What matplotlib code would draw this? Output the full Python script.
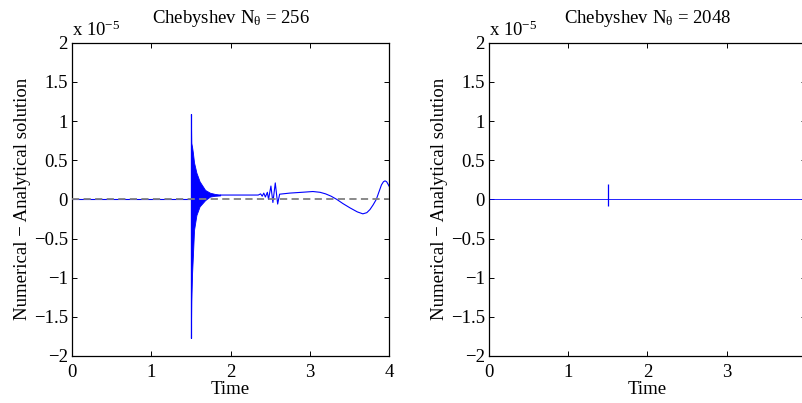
import matplotlib
matplotlib.use("Agg")
import matplotlib.pyplot as plt

plt.rcParams['font.family'] = ['Liberation Serif', 'DejaVu Serif']
plt.rcParams['mathtext.fontset'] = 'custom'
plt.rcParams['mathtext.rm'] = 'Liberation Serif'
plt.rcParams['mathtext.it'] = 'Liberation Serif:italic'
plt.rcParams['font.size'] = 13.5

# ---- data (values in units of 1e-5) ----
titles = [r'Chebyshev N$_{\mathrm{\theta}}$ = 256', r'Chebyshev N$_{\mathrm{\theta}}$ = 2048']
xticks = [0, 1, 2, 3, 4]
yticks = [-2, -1.5, -1, -0.5, 0, 0.5, 1, 1.5, 2]
ytick_labels = ['\u22122', '\u22121.5', '\u22121', '\u22120.5', '0', '0.5', '1', '1.5', '2']

# left panel: pre-burst line
pre_t = [0.0, 1.5]
pre_v = [0.0, 0.0]
# left panel: spike at t=1.5
spike_t = 1.5
spike_top = 1.09
spike_bottom = -1.77
# left panel: dense oscillation envelope after the spike
burst_t = [1.500, 1.505, 1.515, 1.525, 1.54, 1.57, 1.61, 1.68, 1.74, 1.80, 1.87]
burst_upper = [1.09, 0.72, 0.67, 0.60, 0.47, 0.34, 0.23, 0.12, 0.085, 0.07, 0.06]
burst_lower = [-1.77, -1.30, -0.95, -0.73, -0.39, -0.20, -0.09, -0.01, 0.035, 0.045, 0.05]
# left panel: post-burst curve
post_t = [1.87, 2.0, 2.2, 2.35, 2.38, 2.40, 2.42, 2.44, 2.465, 2.48, 2.51, 2.535,
          2.565, 2.595, 2.62, 2.75, 2.9, 3.04, 3.13, 3.2, 3.27, 3.34, 3.42, 3.51,
          3.6, 3.67, 3.72, 3.76, 3.80, 3.84, 3.875, 3.905, 3.93, 3.95, 3.97, 3.99, 4.0]
post_v = [0.055, 0.055, 0.055, 0.055, 0.07, 0.04, 0.08, 0.03, 0.09, 0.0, 0.17, -0.04,
          0.21, -0.06, 0.066, 0.08, 0.09, 0.10, 0.09, 0.07, 0.04, 0.0, -0.055, -0.11,
          -0.16, -0.185, -0.17, -0.13, -0.07, 0.0, 0.10, 0.185, 0.225, 0.236, 0.225, 0.19, 0.17]

# right panel
right_t = [0.0, 4.0]
right_v = [0.0, 0.0]
right_spike_t = 1.5
right_spike_top = 0.19
right_spike_bottom = -0.09

fig = plt.figure(figsize=(8.03, 4.03), dpi=100)
ax1 = fig.add_axes([72 / 803, 47 / 403, 317 / 803, 313.3 / 403])
ax2 = fig.add_axes([489 / 803, 47 / 403, 317 / 803, 313.3 / 403])

blue = '#0000ff'

# left
ax1.plot(pre_t, pre_v, color=blue, lw=0.8, zorder=2)
ax1.fill_between(burst_t, burst_lower, burst_upper, color=blue, lw=0.6, zorder=2)
ax1.vlines(spike_t, spike_bottom, spike_top, color=blue, lw=0.9, zorder=2)
ax1.plot(post_t, post_v, color=blue, lw=0.8, zorder=2)
ax1.axhline(0, color='#808080', lw=1.3, dashes=(4, 2.4), zorder=3)

# right
ax2.plot(right_t, right_v, color=blue, lw=0.6, zorder=2)
ax2.vlines(right_spike_t, right_spike_bottom, right_spike_top, color=blue, lw=0.9, zorder=2)

for ax, title in zip([ax1, ax2], titles):
    ax.set_xlim(0, 4)
    ax.set_ylim(-2, 2)
    ax.set_xticks(xticks)
    ax.set_yticks(yticks)
    ax.set_yticklabels(ytick_labels)
    ax.tick_params(direction='in', length=3.5, width=0.7, top=True, right=True)
    ax.tick_params(axis='x', pad=6)
    ax.tick_params(axis='y', pad=3)
    for s in ax.spines.values():
        s.set_linewidth(0.9)
    ax.set_title(title, fontsize=13.5, pad=14)
    ax.set_xlabel('Time', labelpad=0)
    ax.set_ylabel('Numerical \u2212 Analytical solution', labelpad=2)
    ax.text(0.0, 1.008, r'x 10$^{-5}$', transform=ax.transAxes, ha='left', va='bottom',
            fontsize=13.5)

fig.savefig('out.png', dpi=100)
